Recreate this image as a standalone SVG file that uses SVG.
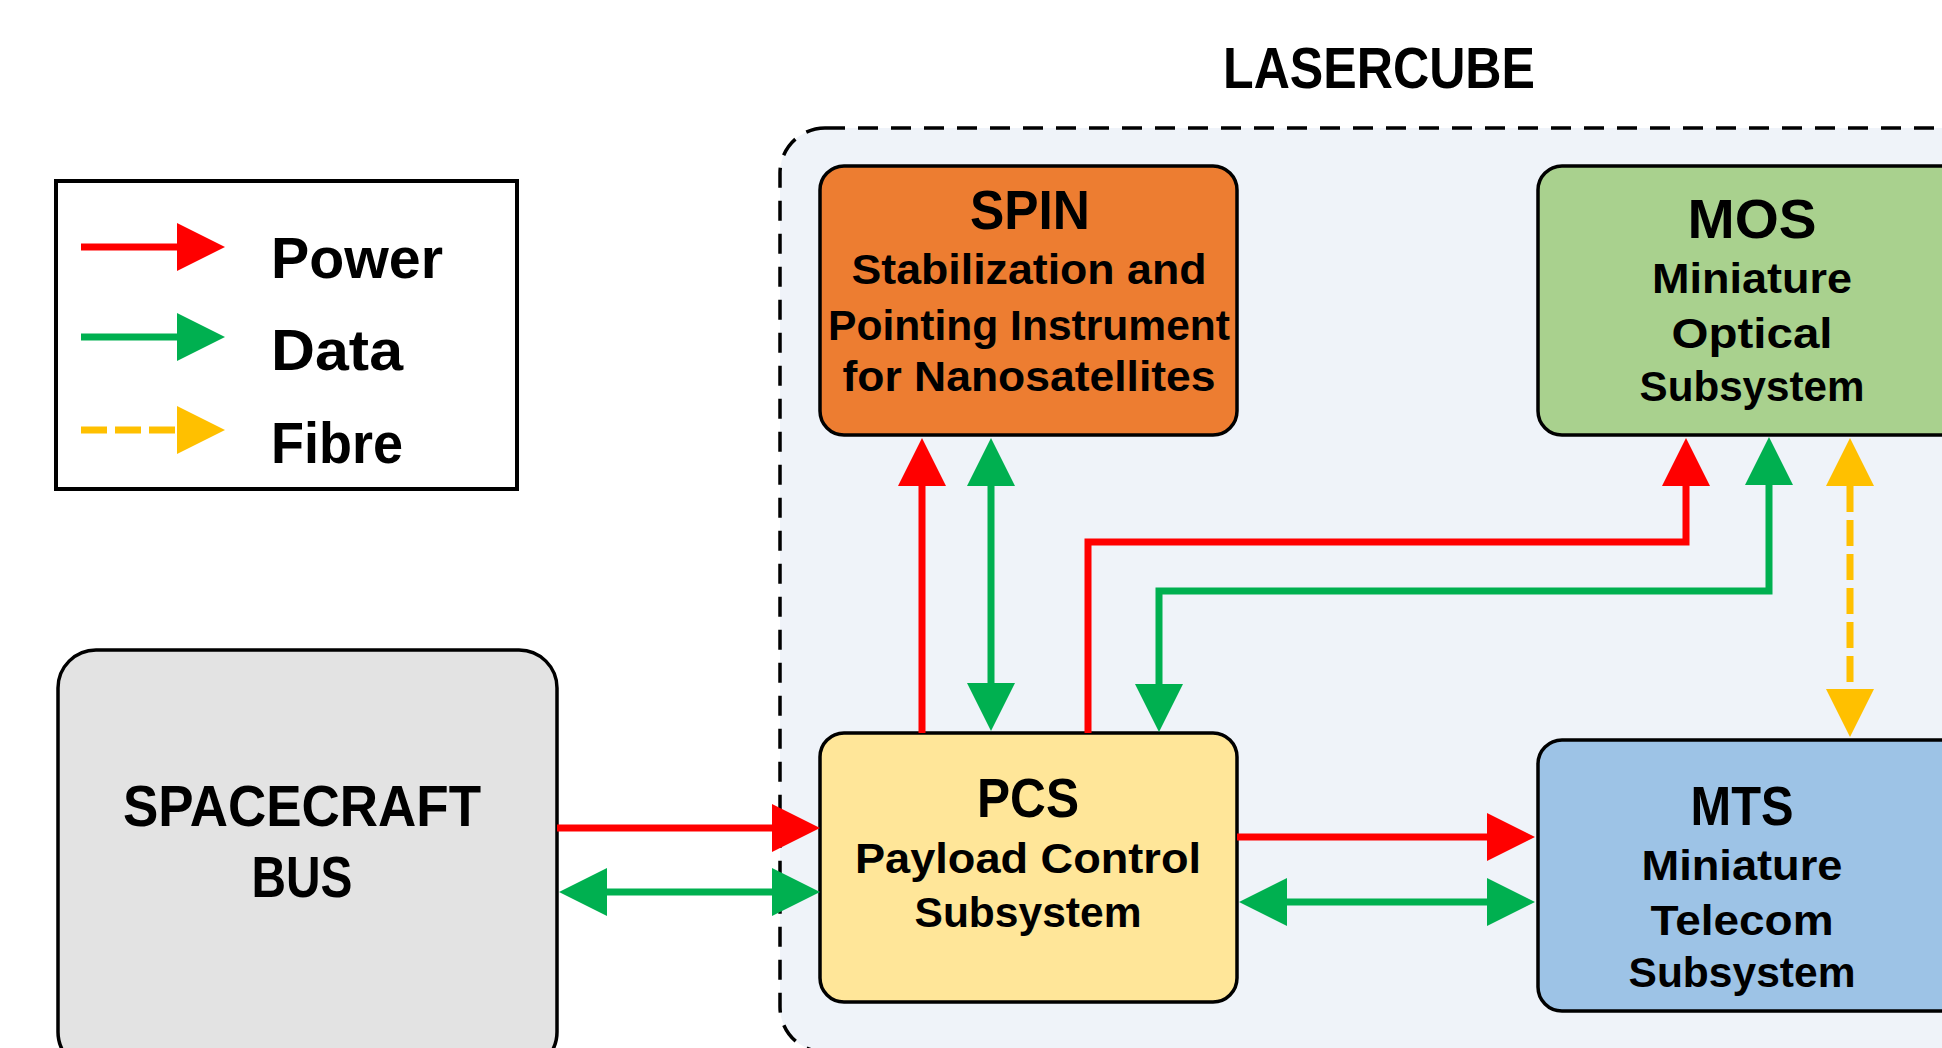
<svg xmlns="http://www.w3.org/2000/svg" width="1942" height="1048" viewBox="0 0 1942 1048">
<style>
text{font-family:"Liberation Sans",Arial,sans-serif;font-weight:bold;fill:#000;text-anchor:middle}
.t{font-size:56px}
.s{font-size:43px}
.lg{font-size:58px;text-anchor:start}
.box{stroke:#000;stroke-width:3.5}
.pw{stroke:#FF0000;stroke-width:7;fill:none}
.dt{stroke:#00B050;stroke-width:7;fill:none}
.fb{stroke:#FFC000;stroke-width:7;fill:none;stroke-dasharray:26 8}
</style>
<defs>
<marker id="ar" markerUnits="userSpaceOnUse" markerWidth="48" markerHeight="48" viewBox="0 0 48 48" refX="0" refY="24" orient="auto-start-reverse"><path d="M0,0 L48,24 L0,48 Z" fill="#FF0000"/></marker>
<marker id="ag" markerUnits="userSpaceOnUse" markerWidth="48" markerHeight="48" viewBox="0 0 48 48" refX="0" refY="24" orient="auto-start-reverse"><path d="M0,0 L48,24 L0,48 Z" fill="#00B050"/></marker>
<marker id="ay" markerUnits="userSpaceOnUse" markerWidth="48" markerHeight="48" viewBox="0 0 48 48" refX="0" refY="24" orient="auto-start-reverse"><path d="M0,0 L48,24 L0,48 Z" fill="#FFC000"/></marker>
</defs>
<rect width="1942" height="1048" fill="#FFFFFF"/>

<g id="lasercube">
<rect x="780" y="128" width="1220" height="924" rx="45" fill="#EFF3F9" stroke="#000" stroke-width="3.5" stroke-dasharray="20 13"/>
<text x="1379" y="88" style="font-size:58px" textLength="312" lengthAdjust="spacingAndGlyphs">LASERCUBE</text>
</g>

<g id="legend">
<rect x="56" y="181" width="461" height="308" fill="#FFFFFF" stroke="#000" stroke-width="4"/>
<line class="pw" x1="81" y1="247" x2="177" y2="247" marker-end="url(#ar)"/>
<line class="dt" x1="81" y1="337" x2="177" y2="337" marker-end="url(#ag)"/>
<line class="fb" x1="81" y1="430" x2="177" y2="430" marker-end="url(#ay)"/>
<text class="lg" x="271" y="278" textLength="172" lengthAdjust="spacingAndGlyphs">Power</text>
<text class="lg" x="271" y="370" textLength="132" lengthAdjust="spacingAndGlyphs">Data</text>
<text class="lg" x="271" y="463" textLength="132" lengthAdjust="spacingAndGlyphs">Fibre</text>
</g>

<g id="bus">
<rect class="box" x="58" y="650" width="499" height="420" rx="38" fill="#E3E3E3"/>
<text x="302" y="826" style="font-size:58px" textLength="358" lengthAdjust="spacingAndGlyphs">SPACECRAFT</text>
<text x="302" y="897" style="font-size:58px" textLength="101" lengthAdjust="spacingAndGlyphs">BUS</text>
</g>

<g id="spin">
<rect class="box" x="820" y="166" width="417" height="269" rx="24" fill="#ED7D31"/>
<text class="t" x="1030" y="229" textLength="120" lengthAdjust="spacingAndGlyphs">SPIN</text>
<text class="s" x="1029" y="284" textLength="355" lengthAdjust="spacingAndGlyphs">Stabilization and</text>
<text class="s" x="1029" y="340" textLength="402" lengthAdjust="spacingAndGlyphs">Pointing Instrument</text>
<text class="s" x="1029" y="391" textLength="373" lengthAdjust="spacingAndGlyphs">for Nanosatellites</text>
</g>

<g id="mos">
<rect class="box" x="1538" y="166" width="430" height="269" rx="24" fill="#A9D18E"/>
<text class="t" x="1752" y="238" textLength="129" lengthAdjust="spacingAndGlyphs">MOS</text>
<text class="s" x="1752" y="293" textLength="200" lengthAdjust="spacingAndGlyphs">Miniature</text>
<text class="s" x="1752" y="348" textLength="161" lengthAdjust="spacingAndGlyphs">Optical</text>
<text class="s" x="1752" y="401" textLength="225" lengthAdjust="spacingAndGlyphs">Subsystem</text>
</g>

<g id="pcs">
<rect class="box" x="820" y="733" width="417" height="269" rx="24" fill="#FFE699"/>
<text class="t" x="1028" y="817" textLength="102" lengthAdjust="spacingAndGlyphs">PCS</text>
<text class="s" x="1028" y="873" textLength="346" lengthAdjust="spacingAndGlyphs">Payload Control</text>
<text class="s" x="1028" y="927" textLength="227" lengthAdjust="spacingAndGlyphs">Subsystem</text>
</g>

<g id="mts">
<rect class="box" x="1538" y="740" width="430" height="271" rx="24" fill="#9DC3E6"/>
<text class="t" x="1742" y="825" textLength="103" lengthAdjust="spacingAndGlyphs">MTS</text>
<text class="s" x="1742" y="880" textLength="201" lengthAdjust="spacingAndGlyphs">Miniature</text>
<text class="s" x="1742" y="935" textLength="183" lengthAdjust="spacingAndGlyphs">Telecom</text>
<text class="s" x="1742" y="987" textLength="227" lengthAdjust="spacingAndGlyphs">Subsystem</text>
</g>

<g id="connectors">
<line class="pw" x1="557" y1="828" x2="772" y2="828" marker-end="url(#ar)"/>
<line class="dt" x1="607" y1="892" x2="772" y2="892" marker-start="url(#ag)" marker-end="url(#ag)"/>
<line class="pw" x1="1237" y1="837" x2="1487" y2="837" marker-end="url(#ar)"/>
<line class="dt" x1="1287" y1="902" x2="1487" y2="902" marker-start="url(#ag)" marker-end="url(#ag)"/>
<line class="pw" x1="922" y1="733" x2="922" y2="486" marker-end="url(#ar)"/>
<line class="dt" x1="991" y1="486" x2="991" y2="683" marker-start="url(#ag)" marker-end="url(#ag)"/>
<path class="pw" d="M1088,733 V542 H1686 V486" marker-end="url(#ar)"/>
<path class="dt" d="M1769,485 V591 H1159 V684" marker-start="url(#ag)" marker-end="url(#ag)"/>
<line class="fb" x1="1850" y1="486" x2="1850" y2="689" marker-start="url(#ay)" marker-end="url(#ay)"/>
</g>
</svg>
